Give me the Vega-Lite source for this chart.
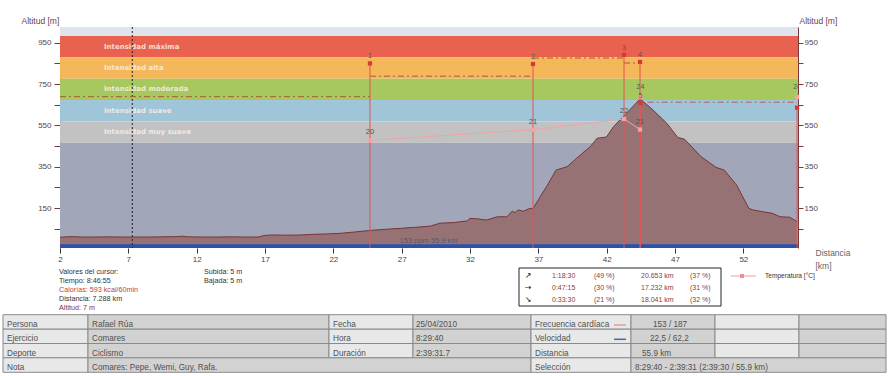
{
  "$schema": "https://vega.github.io/schema/vega-lite/v6.json",
  "width": 738,
  "height": 221,
  "autosize": "none",
  "padding": {"left": 60, "top": 27, "right": 92, "bottom": 128},
  "background": "white",
  "config": {"view": {"stroke": null}, "font": "Liberation Sans"},
  "datasets": {
    "perfil": [{"km":2.0,"alt":9},{"km":2.5,"alt":11},{"km":3.0,"alt":12},{"km":3.5,"alt":10},{"km":4.5,"alt":10},{"km":5.5,"alt":11},{"km":6.5,"alt":10},{"km":7.5,"alt":10},{"km":8.5,"alt":10},{"km":9.5,"alt":11},{"km":10.5,"alt":12},{"km":10.9,"alt":14},{"km":11.4,"alt":11},{"km":12.5,"alt":10},{"km":13.5,"alt":10},{"km":14.5,"alt":11},{"km":15.5,"alt":10},{"km":16.5,"alt":10},{"km":17.0,"alt":18},{"km":17.5,"alt":20},{"km":18.5,"alt":19},{"km":19.6,"alt":20},{"km":20.5,"alt":23},{"km":21.5,"alt":25},{"km":22.5,"alt":28},{"km":23.5,"alt":34},{"km":24.7,"alt":42},{"km":25.5,"alt":46},{"km":26.9,"alt":52},{"km":28.0,"alt":57},{"km":29.1,"alt":63},{"km":29.8,"alt":77},{"km":30.8,"alt":80},{"km":31.8,"alt":88},{"km":32.0,"alt":100},{"km":32.6,"alt":98},{"km":33.2,"alt":92},{"km":34.0,"alt":108},{"km":34.7,"alt":108},{"km":35.1,"alt":136},{"km":35.3,"alt":128},{"km":35.5,"alt":141},{"km":35.9,"alt":135},{"km":36.4,"alt":149},{"km":36.6,"alt":146},{"km":37.0,"alt":190},{"km":37.6,"alt":254},{"km":38.3,"alt":334},{"km":39.1,"alt":350},{"km":39.8,"alt":391},{"km":40.5,"alt":431},{"km":40.8,"alt":447},{"km":41.3,"alt":488},{"km":41.8,"alt":492},{"km":42.0,"alt":495},{"km":42.5,"alt":544},{"km":43.2,"alt":592},{"km":43.8,"alt":633},{"km":44.45,"alt":678},{"km":45.4,"alt":624},{"km":46.4,"alt":560},{"km":47.2,"alt":492},{"km":47.7,"alt":483},{"km":48.9,"alt":399},{"km":50.0,"alt":347},{"km":50.6,"alt":334},{"km":51.5,"alt":262},{"km":52.4,"alt":149},{"km":52.7,"alt":141},{"km":53.4,"alt":133},{"km":54.1,"alt":125},{"km":54.7,"alt":108},{"km":55.4,"alt":106},{"km":55.93,"alt":84}],
    "zonas": [
      {"z":"top","lo":983,"hi":1026,"mid":1004,"lab":""},
      {"z":"max","lo":879.6,"hi":983,"mid":931,"lab":"Intensidad máxima"},
      {"z":"alta","lo":776.2,"hi":879.6,"mid":828,"lab":"Intensidad alta"},
      {"z":"mod","lo":672.8,"hi":776.2,"mid":724.5,"lab":"Intensidad moderada"},
      {"z":"suave","lo":569.4,"hi":672.8,"mid":621,"lab":"Intensidad suave"},
      {"z":"muy","lo":466,"hi":569.4,"mid":517.7,"lab":"Intensidad muy suave"},
      {"z":"base","lo":-43,"hi":466,"mid":200,"lab":""}
    ],
    "marcas": [
      {"n":"1","km":24.68,"hr":850},
      {"n":"2","km":36.61,"hr":847},
      {"n":"3","km":43.27,"hr":891},
      {"n":"4","km":44.44,"hr":857},
      {"n":"5","km":44.47,"hr":658},
      {"n":"","km":55.93,"hr":636}
    ],
    "medias": [
      {"a":2,"b":24.68,"v":689,"s":"fc"},
      {"a":24.68,"b":36.61,"v":788,"s":"fc"},
      {"a":36.61,"b":43.27,"v":876,"s":"fc"},
      {"a":43.27,"b":44.44,"v":852,"s":"fc"},
      {"a":45.0,"b":55.93,"v":662,"s":"fc2"}
    ],
    "temp": [
      {"km":24.68,"t":478,"lab":"20","o":1},
      {"km":36.61,"t":529,"lab":"21","o":2},
      {"km":43.27,"t":581,"lab":"22","o":3},
      {"km":44.44,"t":530,"lab":"21","o":4}
    ],
    "temp2": [
      {"km":44.47,"t":687,"lab":"24"},
      {"km":55.93,"t":687,"lab":"24"}
    ],
    "celdas": [
      {"x0":3,"x1":88,"y0":314.7,"y1":329.2,"k":"L"},{"x0":88,"x1":329,"y0":314.7,"y1":329.2,"k":"V"},{"x0":329,"x1":413,"y0":314.7,"y1":329.2,"k":"L"},{"x0":413,"x1":531,"y0":314.7,"y1":329.2,"k":"V"},{"x0":531,"x1":631,"y0":314.7,"y1":329.2,"k":"L"},{"x0":631,"x1":715,"y0":314.7,"y1":329.2,"k":"V"},{"x0":715,"x1":799,"y0":314.7,"y1":329.2,"k":"L"},{"x0":799,"x1":886,"y0":314.7,"y1":329.2,"k":"V"},
      {"x0":3,"x1":88,"y0":329.2,"y1":343.5,"k":"L"},{"x0":88,"x1":329,"y0":329.2,"y1":343.5,"k":"V"},{"x0":329,"x1":413,"y0":329.2,"y1":343.5,"k":"L"},{"x0":413,"x1":531,"y0":329.2,"y1":343.5,"k":"V"},{"x0":531,"x1":631,"y0":329.2,"y1":343.5,"k":"L"},{"x0":631,"x1":715,"y0":329.2,"y1":343.5,"k":"V"},{"x0":715,"x1":799,"y0":329.2,"y1":343.5,"k":"L"},{"x0":799,"x1":886,"y0":329.2,"y1":343.5,"k":"V"},
      {"x0":3,"x1":88,"y0":343.5,"y1":357.8,"k":"L"},{"x0":88,"x1":329,"y0":343.5,"y1":357.8,"k":"V"},{"x0":329,"x1":413,"y0":343.5,"y1":357.8,"k":"L"},{"x0":413,"x1":531,"y0":343.5,"y1":357.8,"k":"V"},{"x0":531,"x1":631,"y0":343.5,"y1":357.8,"k":"L"},{"x0":631,"x1":715,"y0":343.5,"y1":357.8,"k":"V"},{"x0":715,"x1":799,"y0":343.5,"y1":357.8,"k":"L"},{"x0":799,"x1":886,"y0":343.5,"y1":357.8,"k":"V"},
      {"x0":3,"x1":88,"y0":357.8,"y1":372.3,"k":"L"},{"x0":88,"x1":531,"y0":357.8,"y1":372.3,"k":"V"},{"x0":531,"x1":631,"y0":357.8,"y1":372.3,"k":"L"},{"x0":631,"x1":886,"y0":357.8,"y1":372.3,"k":"V"}
    ],
    "textos": [
      {"x":7,"y":325,"t":"Persona"},{"x":92,"y":325,"t":"Rafael Rúa"},{"x":333,"y":325,"t":"Fecha"},{"x":416,"y":325,"t":"25/04/2010"},{"x":535,"y":325,"t":"Frecuencia cardíaca"},{"x":653,"y":325,"t":"153 / 187"},
      {"x":7,"y":339.3,"t":"Ejercicio"},{"x":92,"y":339.3,"t":"Comares"},{"x":333,"y":339.3,"t":"Hora"},{"x":416,"y":339.3,"t":"8:29:40"},{"x":535,"y":339.3,"t":"Velocidad"},{"x":650,"y":339.3,"t":"22,5 / 62,2"},
      {"x":7,"y":353.5,"t":"Deporte"},{"x":92,"y":353.5,"t":"Ciclismo"},{"x":333,"y":353.5,"t":"Duración"},{"x":416,"y":353.5,"t":"2:39:31.7"},{"x":535,"y":353.5,"t":"Distancia"},{"x":642,"y":353.5,"t":"55.9 km"},
      {"x":7,"y":367.8,"t":"Nota"},{"x":92,"y":367.8,"t":"Comares: Pepe, Wemi, Guy, Rafa."},{"x":535,"y":367.8,"t":"Selección"},{"x":635,"y":367.8,"t":"8:29:40 - 2:39:31 (2:39:30 / 55.9 km)"}
    ],
    "notas": [
      {"x":59,"y":271.7,"t":"Valores del cursor:","k":"n"},
      {"x":59,"y":280.7,"t":"Tiempo: 8:46:55","k":"n"},
      {"x":59,"y":289.7,"t":"Calorías: 593 kcal/60min","k":"cal"},
      {"x":59,"y":298.7,"t":"Distancia: 7.288 km","k":"n"},
      {"x":59,"y":308,"t":"Altitud: 7 m","k":"alt"},
      {"x":204,"y":271.7,"t":"Subida: 5 m","k":"n"},
      {"x":204,"y":280.7,"t":"Bajada: 5 m","k":"n"}
    ],
    "resumen": [
      {"x":552,"y":276,"t":"1:18:30"},{"x":594,"y":276,"t":"(49 %)"},{"x":641,"y":276,"t":"20.653 km"},{"x":690,"y":276,"t":"(37 %)"},
      {"x":552,"y":288,"t":"0:47:15"},{"x":594,"y":288,"t":"(30 %)"},{"x":641,"y":288,"t":"17.232 km"},{"x":690,"y":288,"t":"(31 %)"},
      {"x":552,"y":300,"t":"0:33:30"},{"x":594,"y":300,"t":"(21 %)"},{"x":641,"y":300,"t":"18.041 km"},{"x":690,"y":300,"t":"(32 %)"}
    ],
    "flechas": [
      {"x":528,"y":276,"t":"↗"},{"x":528,"y":288,"t":"→"},{"x":528,"y":300,"t":"↘"}
    ]
  },
  "layer": [
    {
      "layer": [
        {
          "data": {"name": "zonas"},
          "mark": {"type": "rect"},
          "encoding": {
            "y": {"field": "lo", "type": "quantitative", "scale": {"domain": [-43, 1026], "nice": false, "zero": false}, "axis": null},
            "y2": {"field": "hi"},
            "color": {"field": "z", "type": "nominal", "legend": null,
              "scale": {"domain": ["top","max","alta","mod","suave","muy","base"],
                        "range": ["#dfe3ec","#e9614f","#f4b75a","#a7c85f","#a0c5d8","#c2c2c2","#a2a6b9"]}}
          }
        },
        {
          "data": {"name": "zonas"},
          "mark": {"type": "text", "align": "left", "baseline": "middle", "font": "DejaVu Sans", "fontWeight": "bold", "fontSize": 7, "color": "#fbf0ea", "opacity": 0.85},
          "encoding": {
            "x": {"datum": 5.22},
            "y": {"field": "mid", "type": "quantitative", "axis": null},
            "text": {"field": "lab"}
          }
        },
        {
          "data": {"name": "perfil"},
          "mark": {"type": "area", "color": "#967275", "opacity": 1, "line": {"color": "#7a3434", "strokeWidth": 1}},
          "encoding": {
            "x": {"field": "km", "type": "quantitative", "scale": {"domain": [2, 56], "nice": false, "zero": false},
              "axis": {"values": [2,7,12,17,22,27,32,37,42,47,52], "domain": false, "grid": false,
                "tickColor": "#333333", "tickSize": 5, "labelFontSize": 8, "labelColor": "#444444", "labelPadding": 2,
                "labelFlush": false, "labelOverlap": false, "labelFont": "Liberation Sans",
                "title": ["Distancia", "[km]"], "titleX": 755, "titleY": 4, "titleAlign": "left", "titleBaseline": "middle",
                "titleFontWeight": "normal", "titleFontSize": 8.5, "titleColor": "#666666", "titleLineHeight": 13, "titleFont": "Liberation Sans"}},
            "y": {"field": "alt", "type": "quantitative", "axis": null},
            "y2": {"datum": -43}
          }
        },
        {
          "data": {"values": [{}]},
          "mark": {"type": "rect", "color": "#2b51b0"},
          "encoding": {"y": {"datum": -43, "axis": null}, "y2": {"datum": -25}}
        },
        {
          "data": {"values": [{"t": "153 ppm 55.9 km"}]},
          "mark": {"type": "text", "align": "left", "baseline": "middle", "fontSize": 7.5, "color": "#5a5a66"},
          "encoding": {"x": {"datum": 26.85}, "y": {"datum": -9, "axis": null}, "text": {"field": "t"}}
        },
        {
          "data": {"values": [{}]},
          "mark": {"type": "rule", "color": "#222222", "strokeWidth": 1, "strokeDash": [2, 2]},
          "encoding": {"x": {"datum": 7.288}}
        },
        {
          "data": {"name": "medias"},
          "mark": {"type": "rule", "strokeDash": [6, 3, 2, 3]},
          "encoding": {
            "x": {"field": "a", "type": "quantitative"},
            "x2": {"field": "b"},
            "y": {"field": "v", "type": "quantitative", "axis": null},
            "color": {"field": "s", "type": "nominal", "legend": null, "scale": {"domain": ["fc","fc2"], "range": ["#a65a33","#b67a8c"]}},
            "strokeWidth": {"field": "s", "type": "nominal", "legend": null, "scale": {"domain": ["fc","fc2"], "range": [1, 1.6]}}
          }
        },
        {
          "data": {"name": "marcas"},
          "mark": {"type": "rule", "color": "#e05656", "opacity": 0.85, "strokeWidth": 1.2},
          "encoding": {
            "x": {"field": "km", "type": "quantitative"},
            "y": {"field": "hr", "type": "quantitative", "axis": null},
            "y2": {"datum": -43}
          }
        },
        {
          "data": {"name": "temp"},
          "mark": {"type": "line", "color": "#f2a3a3", "strokeWidth": 1, "point": {"shape": "square", "size": 18, "filled": true, "color": "#f4a3a3"}},
          "encoding": {
            "x": {"field": "km", "type": "quantitative"},
            "y": {"field": "t", "type": "quantitative", "axis": null},
            "order": {"field": "o"}
          }
        },
        {
          "data": {"name": "temp2"},
          "mark": {"type": "point", "shape": "square", "size": 18, "filled": true, "color": "#f4a3a3", "opacity": 1},
          "encoding": {
            "x": {"field": "km", "type": "quantitative"},
            "y": {"field": "t", "type": "quantitative", "axis": null}
          }
        },
        {
          "data": {"name": "marcas"},
          "mark": {"type": "point", "shape": "square", "size": 18, "filled": true, "color": "#d63838", "opacity": 1},
          "encoding": {
            "x": {"field": "km", "type": "quantitative"},
            "y": {"field": "hr", "type": "quantitative", "axis": null}
          }
        },
        {
          "data": {"name": "marcas"},
          "mark": {"type": "text", "fontSize": 7, "color": "#555555", "dy": -7, "baseline": "middle", "clip": true},
          "encoding": {
            "x": {"field": "km", "type": "quantitative"},
            "y": {"field": "hr", "type": "quantitative", "axis": null},
            "text": {"field": "n"}
          }
        },
        {
          "data": {"name": "temp"},
          "mark": {"type": "text", "fontSize": 7.5, "color": "#555555", "dy": -8, "baseline": "middle", "clip": true},
          "encoding": {
            "x": {"field": "km", "type": "quantitative"},
            "y": {"field": "t", "type": "quantitative", "axis": null},
            "text": {"field": "lab"}
          }
        },
        {
          "data": {"name": "temp2"},
          "mark": {"type": "text", "fontSize": 7, "color": "#555555", "dy": -10, "baseline": "middle", "clip": true},
          "encoding": {
            "x": {"field": "km", "type": "quantitative"},
            "y": {"field": "t", "type": "quantitative", "axis": null},
            "text": {"field": "lab"}
          }
        }
      ],
      "resolve": {"scale": {"color": "independent", "strokeWidth": "independent"}}
    },
    {
      "data": {"name": "zonas"},
      "mark": {"type": "rect", "opacity": 0},
      "encoding": {
        "y": {"field": "lo", "type": "quantitative", "scale": {"domain": [-43, 1026], "nice": false, "zero": false},
          "axis": {"orient": "left", "values": [50,150,250,350,450,550,650,750,850,950],
            "labelExpr": "(datum.value - 150) % 200 == 0 ? datum.label : ''",
            "grid": false, "tickSize": 6, "tickColor": "#7a3a3a", "domainColor": "#7a3a3a",
            "labelFontSize": 8, "labelColor": "#5a4444", "labelPadding": 3, "labelFont": "Liberation Sans",
            "title": "Altitud [m]", "titleAngle": 0, "titleX": -39, "titleY": -6.5, "titleAlign": "left",
            "titleBaseline": "middle", "titleFontWeight": "normal", "titleFontSize": 8.5, "titleColor": "#6b4545", "titleFont": "Liberation Sans"}},
        "y2": {"field": "hi"}
      }
    },
    {
      "data": {"name": "zonas"},
      "mark": {"type": "rect", "opacity": 0},
      "encoding": {
        "y": {"field": "lo", "type": "quantitative", "scale": {"domain": [-43, 1026], "nice": false, "zero": false},
          "axis": {"orient": "right", "values": [50,150,250,350,450,550,650,750,850,950],
            "labelExpr": "(datum.value - 150) % 200 == 0 ? datum.label : ''",
            "grid": false, "tickSize": 5, "tickColor": "#7a3a3a", "domainColor": "#7a3a3a",
            "labelFontSize": 8, "labelColor": "#5a4444", "labelPadding": 1, "labelFont": "Liberation Sans",
            "title": "Altitud [m]", "titleAngle": 0, "titleX": 1, "titleY": -6.5, "titleAlign": "left",
            "titleBaseline": "middle", "titleFontWeight": "normal", "titleFontSize": 8.5, "titleColor": "#6b4545", "titleFont": "Liberation Sans"}},
        "y2": {"field": "hi"}
      }
    },
    {
      "layer": [
        {
          "data": {"name": "celdas"},
          "mark": {"type": "rect", "stroke": "#8a8a8a", "strokeWidth": 1},
          "encoding": {
            "x": {"field": "x0", "type": "quantitative", "scale": {"domain": [60, 798], "nice": false, "zero": false}, "axis": null},
            "x2": {"field": "x1"},
            "y": {"field": "y0", "type": "quantitative", "scale": {"domain": [27, 248], "nice": false, "zero": false, "reverse": true}, "axis": null},
            "y2": {"field": "y1"},
            "color": {"field": "k", "type": "nominal", "legend": null, "scale": {"domain": ["L","V"], "range": ["#e8e8e8","#d2d2d2"]}}
          }
        },
        {
          "data": {"name": "textos"},
          "mark": {"type": "text", "align": "left", "baseline": "middle", "fontSize": 8.2, "color": "#505050"},
          "encoding": {
            "x": {"field": "x", "type": "quantitative", "axis": null},
            "y": {"field": "y", "type": "quantitative", "axis": null},
            "text": {"field": "t"}
          }
        },
        {
          "data": {"values": [{"x":614,"x2":626,"y":325,"s":"fc"},{"x":614,"x2":626,"y":339.3,"s":"vel"}]},
          "mark": {"type": "rule", "strokeWidth": 1.5},
          "encoding": {
            "x": {"field": "x", "type": "quantitative", "axis": null},
            "x2": {"field": "x2"},
            "y": {"field": "y", "type": "quantitative", "axis": null},
            "color": {"field": "s", "type": "nominal", "legend": null, "scale": {"domain": ["fc","vel"], "range": ["#e89a9a","#4a68a8"]}}
          }
        },
        {
          "data": {"name": "notas"},
          "mark": {"type": "text", "align": "left", "baseline": "middle", "fontSize": 7.2},
          "encoding": {
            "x": {"field": "x", "type": "quantitative", "axis": null},
            "y": {"field": "y", "type": "quantitative", "axis": null},
            "text": {"field": "t"},
            "color": {"field": "k", "type": "nominal", "legend": null, "scale": {"domain": ["n","cal","alt"], "range": ["#333333","#b44848","#8b3030"]}}
          }
        },
        {
          "data": {"values": [{"x0":519,"x1":721,"y0":268,"y1":306}]},
          "mark": {"type": "rect", "fill": "white", "stroke": "#222222", "strokeWidth": 1},
          "encoding": {
            "x": {"field": "x0", "type": "quantitative", "axis": null},
            "x2": {"field": "x1"},
            "y": {"field": "y0", "type": "quantitative", "axis": null},
            "y2": {"field": "y1"}
          }
        },
        {
          "data": {"name": "resumen"},
          "mark": {"type": "text", "align": "left", "baseline": "middle", "fontSize": 7, "color": "#8e3b3b"},
          "encoding": {
            "x": {"field": "x", "type": "quantitative", "axis": null},
            "y": {"field": "y", "type": "quantitative", "axis": null},
            "text": {"field": "t"}
          }
        },
        {
          "data": {"name": "flechas"},
          "mark": {"type": "text", "align": "center", "baseline": "middle", "fontSize": 8, "font": "DejaVu Sans", "color": "#111111"},
          "encoding": {
            "x": {"field": "x", "type": "quantitative", "axis": null},
            "y": {"field": "y", "type": "quantitative", "axis": null},
            "text": {"field": "t"}
          }
        },
        {
          "data": {"values": [{"x":731,"x2":756,"y":276}]},
          "mark": {"type": "rule", "color": "#ee9c9c", "strokeWidth": 1},
          "encoding": {
            "x": {"field": "x", "type": "quantitative", "axis": null},
            "x2": {"field": "x2"},
            "y": {"field": "y", "type": "quantitative", "axis": null}
          }
        },
        {
          "data": {"values": [{"x":742,"y":276}]},
          "mark": {"type": "point", "shape": "square", "size": 16, "filled": true, "color": "#ee9090", "opacity": 1},
          "encoding": {
            "x": {"field": "x", "type": "quantitative", "axis": null},
            "y": {"field": "y", "type": "quantitative", "axis": null}
          }
        },
        {
          "data": {"values": [{"x":765,"y":276,"t":"Temperatura [°C]"}]},
          "mark": {"type": "text", "align": "left", "baseline": "middle", "fontSize": 6.6, "color": "#333333"},
          "encoding": {
            "x": {"field": "x", "type": "quantitative", "axis": null},
            "y": {"field": "y", "type": "quantitative", "axis": null},
            "text": {"field": "t"}
          }
        }
      ],
      "resolve": {"scale": {"color": "independent"}}
    }
  ],
  "resolve": {"scale": {"x": "independent", "y": "independent"}}
}
